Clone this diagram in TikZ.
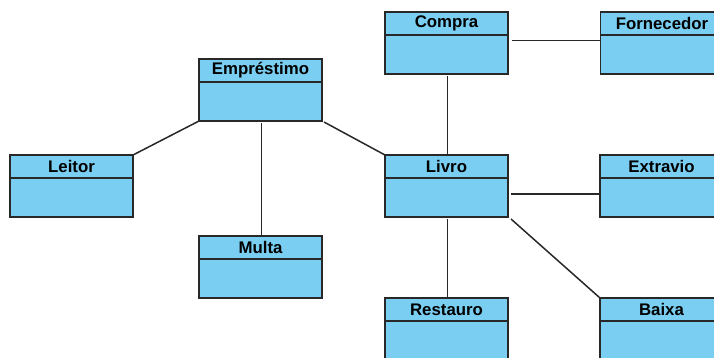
\documentclass[tikz,border=0pt]{standalone}
\usepackage{fontspec}
\setmainfont{Liberation Sans}
\usetikzlibrary{calc}
\definecolor{classfill}{RGB}{122,206,242}
\definecolor{edgecol}{RGB}{40,40,40}
\tikzset{
  classbox/.style={draw=edgecol, line width=1.5pt, fill=classfill,
    minimum width=123pt, minimum height=62pt, inner sep=0pt, outer sep=0pt},
  classtitle/.style={font=\fontsize{16.8}{18}\selectfont\bfseries, inner sep=0pt},
  divider/.style={draw=edgecol, line width=1.5pt},
  link/.style={draw=edgecol, line width=1.5pt},
}
% class box: name, x, y, title
\newcommand\umlclass[4]{%
  \node[classbox] (#1) at (#2,#3) {};
  \draw[divider] ([yshift=-23pt]#1.north west) -- ([yshift=-23pt]#1.north east);
  \node[classtitle] (#1-title) at ([yshift=-11.5pt]#1.north) {#4};
}
\begin{document}
\begin{tikzpicture}[x=1pt,y=-1pt]
\useasboundingbox (0,0) rectangle (714,357);
\clip (0,0) rectangle (714,357);

\umlclass{compra}{446.5}{43}{Compra}
\umlclass{forn}{662}{43}{Fornecedor}
\umlclass{emp}{260.5}{90}{Empréstimo}
\umlclass{leitor}{71.5}{186}{Leitor}
\umlclass{livro}{446.5}{186}{Livro}
\umlclass{extravio}{661.5}{186}{Extravio}
\umlclass{multa}{260.5}{267}{Multa}
\umlclass{restauro}{446.5}{329}{Restauro}
\umlclass{baixa}{661.5}{329}{Baixa}

\draw[link] ([shift={(4pt,2.5pt)}]compra.east) -- ([yshift=2.5pt]forn.west);
\draw[link] ([shift={(1pt,-2pt)}]compra.south) -- ([xshift=1pt]livro.north);
\draw[link] (leitor.north east) -- (emp.south west);
\draw[link] ([shift={(1pt,-2pt)}]emp.south) -- ([xshift=1pt]multa.north);
\draw[link] ([shift={(2pt,-1pt)}]emp.south east) -- (livro.north west);
\draw[link] ([shift={(3pt,-8pt)}]livro.east) -- ([yshift=-8pt]extravio.west);
\draw[link] ([shift={(1pt,-2pt)}]livro.south) -- ([xshift=1pt]restauro.north);
\draw[link] ([shift={(3pt,-2pt)}]livro.south east) -- (baixa.north west);
\end{tikzpicture}
\end{document}
